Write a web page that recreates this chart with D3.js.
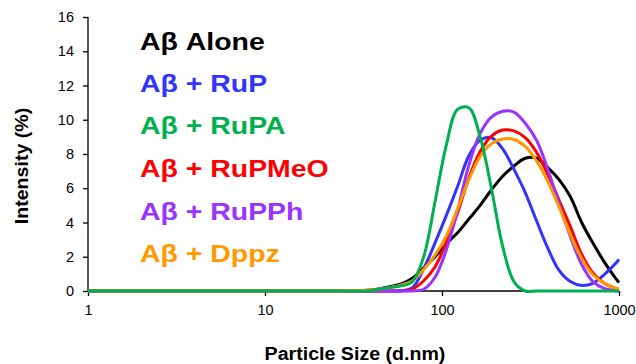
<!DOCTYPE html>
<html>
<head>
<meta charset="utf-8">
<script src="https://cdn.jsdelivr.net/npm/d3@7"></script>
<style>
  html, body { margin: 0; padding: 0; background: #fff; }
  svg { display: block; }
  text { font-family: "Liberation Sans", Arial, sans-serif; }
</style>
</head>
<body>
<svg id="chart" width="636" height="364"></svg>
<script>
// ---- Data ----
const sizes = [1, 24.36, 28.21, 32.67, 37.84, 43.82, 50.75, 58.77, 68.06, 78.82, 91.28, 105.7, 122.4, 141.8, 164.2, 190.1, 220.2, 255.0, 295.3, 342.0, 396.1, 458.7, 531.2, 615.1, 712.4, 825.0, 955.4, 1000];
const seriesNames = ["Aβ Alone", "Aβ + RuP", "Aβ + RuPA", "Aβ + RuPMeO", "Aβ + RuPPh", "Aβ + Dppz"];
const alone  = [0, 0, 0, 0.02, 0.05, 0.12, 0.25, 0.42, 0.75, 1.35, 2.0, 2.75, 3.4, 4.2, 5.0, 5.9, 6.7, 7.3, 7.75, 7.75, 7.2, 6.5, 5.5, 4.0, 2.8, 1.7, 0.75, 0.5];
const ruP    = [0, 0, 0, 0, 0, 0, 0, 0.02, 0.2, 1.3, 2.8, 4.4, 6.1, 7.9, 8.8, 8.95, 8.3, 7.1, 5.75, 4.1, 2.5, 1.2, 0.55, 0.32, 0.45, 0.95, 1.6, 1.85];
const ruPA   = [0, 0, 0, 0, 0, 0.1, 0.2, 0.3, 0.55, 2.0, 5.2, 8.5, 10.6, 10.7, 9.0, 6.0, 2.6, 0.55, 0, 0, 0, 0, 0, 0, 0, 0, 0, 0];
const ruPMeO = [0, 0, 0, 0, 0, 0, 0, 0, 0.1, 0.6, 1.4, 2.85, 4.55, 6.6, 8.15, 9.05, 9.4, 9.35, 8.95, 8.1, 6.8, 5.3, 3.76, 2.15, 1.05, 0.45, 0.15, 0.1];
const ruPPh  = [0, 0, 0, 0, 0, 0, 0, 0, 0, 0.1, 0.8, 2.4, 4.7, 7.35, 9.2, 10.15, 10.5, 10.45, 9.8, 8.8, 7.1, 5.1, 3.18, 1.55, 0.55, 0.15, 0.02, 0];
const dppz   = [0, 0, 0.01, 0.02, 0.05, 0.1, 0.2, 0.35, 0.6, 1.25, 2.1, 3.2, 4.8, 6.5, 7.85, 8.6, 8.88, 8.85, 8.45, 7.6, 6.4, 4.9, 3.3, 1.9, 0.95, 0.45, 0.15, 0.1];
const seriesColors = ["#000000", "#3333FF", "#00B050", "#FF0000", "#9933FF", "#FF9900"];
const xTicks = [1, 10, 100, 1000];
const yTicks = [0, 2, 4, 6, 8, 10, 12, 14, 16];
const xTitle = "Particle Size (d.nm)";
const yTitle = "Intensity (%)";

const seriesValues = [alone, ruP, ruPA, ruPMeO, ruPPh, dppz];
const drawOrder = [0, 1, 3, 4, 5, 2];

// ---- Layout ----
const svg = d3.select("#chart");
const plot = { left: 88, right: 619, top: 17, bottom: 291 };

const x = d3.scaleLog().domain([1, 1000]).range([plot.left, plot.right]);
const y = d3.scaleLinear().domain([0, 16]).range([plot.bottom, plot.top]);

function stretch(sel, factor) {
  sel.each(function () {
    const w = this.getComputedTextLength();
    d3.select(this).attr("textLength", w * factor).attr("lengthAdjust", "spacingAndGlyphs");
  });
}

// Y axis
const yAxis = svg.append("g")
  .attr("transform", `translate(${plot.left},0)`)
  .call(d3.axisLeft(y).tickValues(yTicks).tickSize(5).tickPadding(9).tickFormat(d3.format("d")));
yAxis.select(".domain").attr("stroke", "#000").attr("stroke-width", 1.3).attr("d", `M0,${plot.top}V${plot.bottom}`);
yAxis.selectAll(".tick line").attr("stroke", "#000").attr("stroke-width", 1.3);
yAxis.selectAll(".tick text").attr("font-size", 14.5).attr("fill", "#000")
  .style("font-family", '"Liberation Sans", Arial, sans-serif');

// X axis
const xAxis = svg.append("g")
  .attr("transform", `translate(0,${plot.bottom})`)
  .call(d3.axisBottom(x).tickValues(xTicks).tickSize(5).tickPadding(9).tickFormat(d3.format("d")));
xAxis.select(".domain").attr("stroke", "#000").attr("stroke-width", 1.3).attr("d", `M${plot.left},0H${plot.right}`);
xAxis.selectAll(".tick line").attr("stroke", "#000").attr("stroke-width", 1.3);
xAxis.selectAll(".tick text").attr("font-size", 14.5).attr("fill", "#000")
  .style("font-family", '"Liberation Sans", Arial, sans-serif');

// Lines
const line = d3.line()
  .x((d) => x(d[0]))
  .y((d) => y(d[1]))
  .curve(d3.curveCatmullRom.alpha(0.5));

const linesG = svg.append("g");
drawOrder.forEach((i) => {
  const pts = sizes.map((s, k) => [s, seriesValues[i][k]]);
  linesG.append("path")
    .attr("d", line(pts))
    .attr("fill", "none")
    .attr("stroke", seriesColors[i])
    .attr("stroke-width", 3)
    .attr("stroke-linejoin", "round")
    .attr("stroke-linecap", "butt");
});

// Legend (text labels)
const legendBaselines = [49.5, 91.5, 134, 177, 219.5, 262];
const legend = svg.append("g");
seriesNames.forEach((name, i) => {
  legend.append("text")
    .attr("x", 140)
    .attr("y", legendBaselines[i])
    .attr("font-size", 24.5)
    .attr("font-weight", "bold")
    .attr("fill", seriesColors[i])
    .text(name);
});
stretch(legend.selectAll("text"), 1.16);

// Axis titles
const xt = svg.append("text")
  .attr("x", 355).attr("y", 360)
  .attr("text-anchor", "middle")
  .attr("font-size", 17.5).attr("font-weight", "bold").attr("fill", "#000")
  .text(xTitle);
stretch(xt, 1.12);

const yt = svg.append("text")
  .attr("transform", "translate(28,166) rotate(-90)")
  .attr("text-anchor", "middle")
  .attr("font-size", 17.5).attr("font-weight", "bold").attr("fill", "#000")
  .text(yTitle);
stretch(yt, 1.12);
</script>
</body>
</html>
